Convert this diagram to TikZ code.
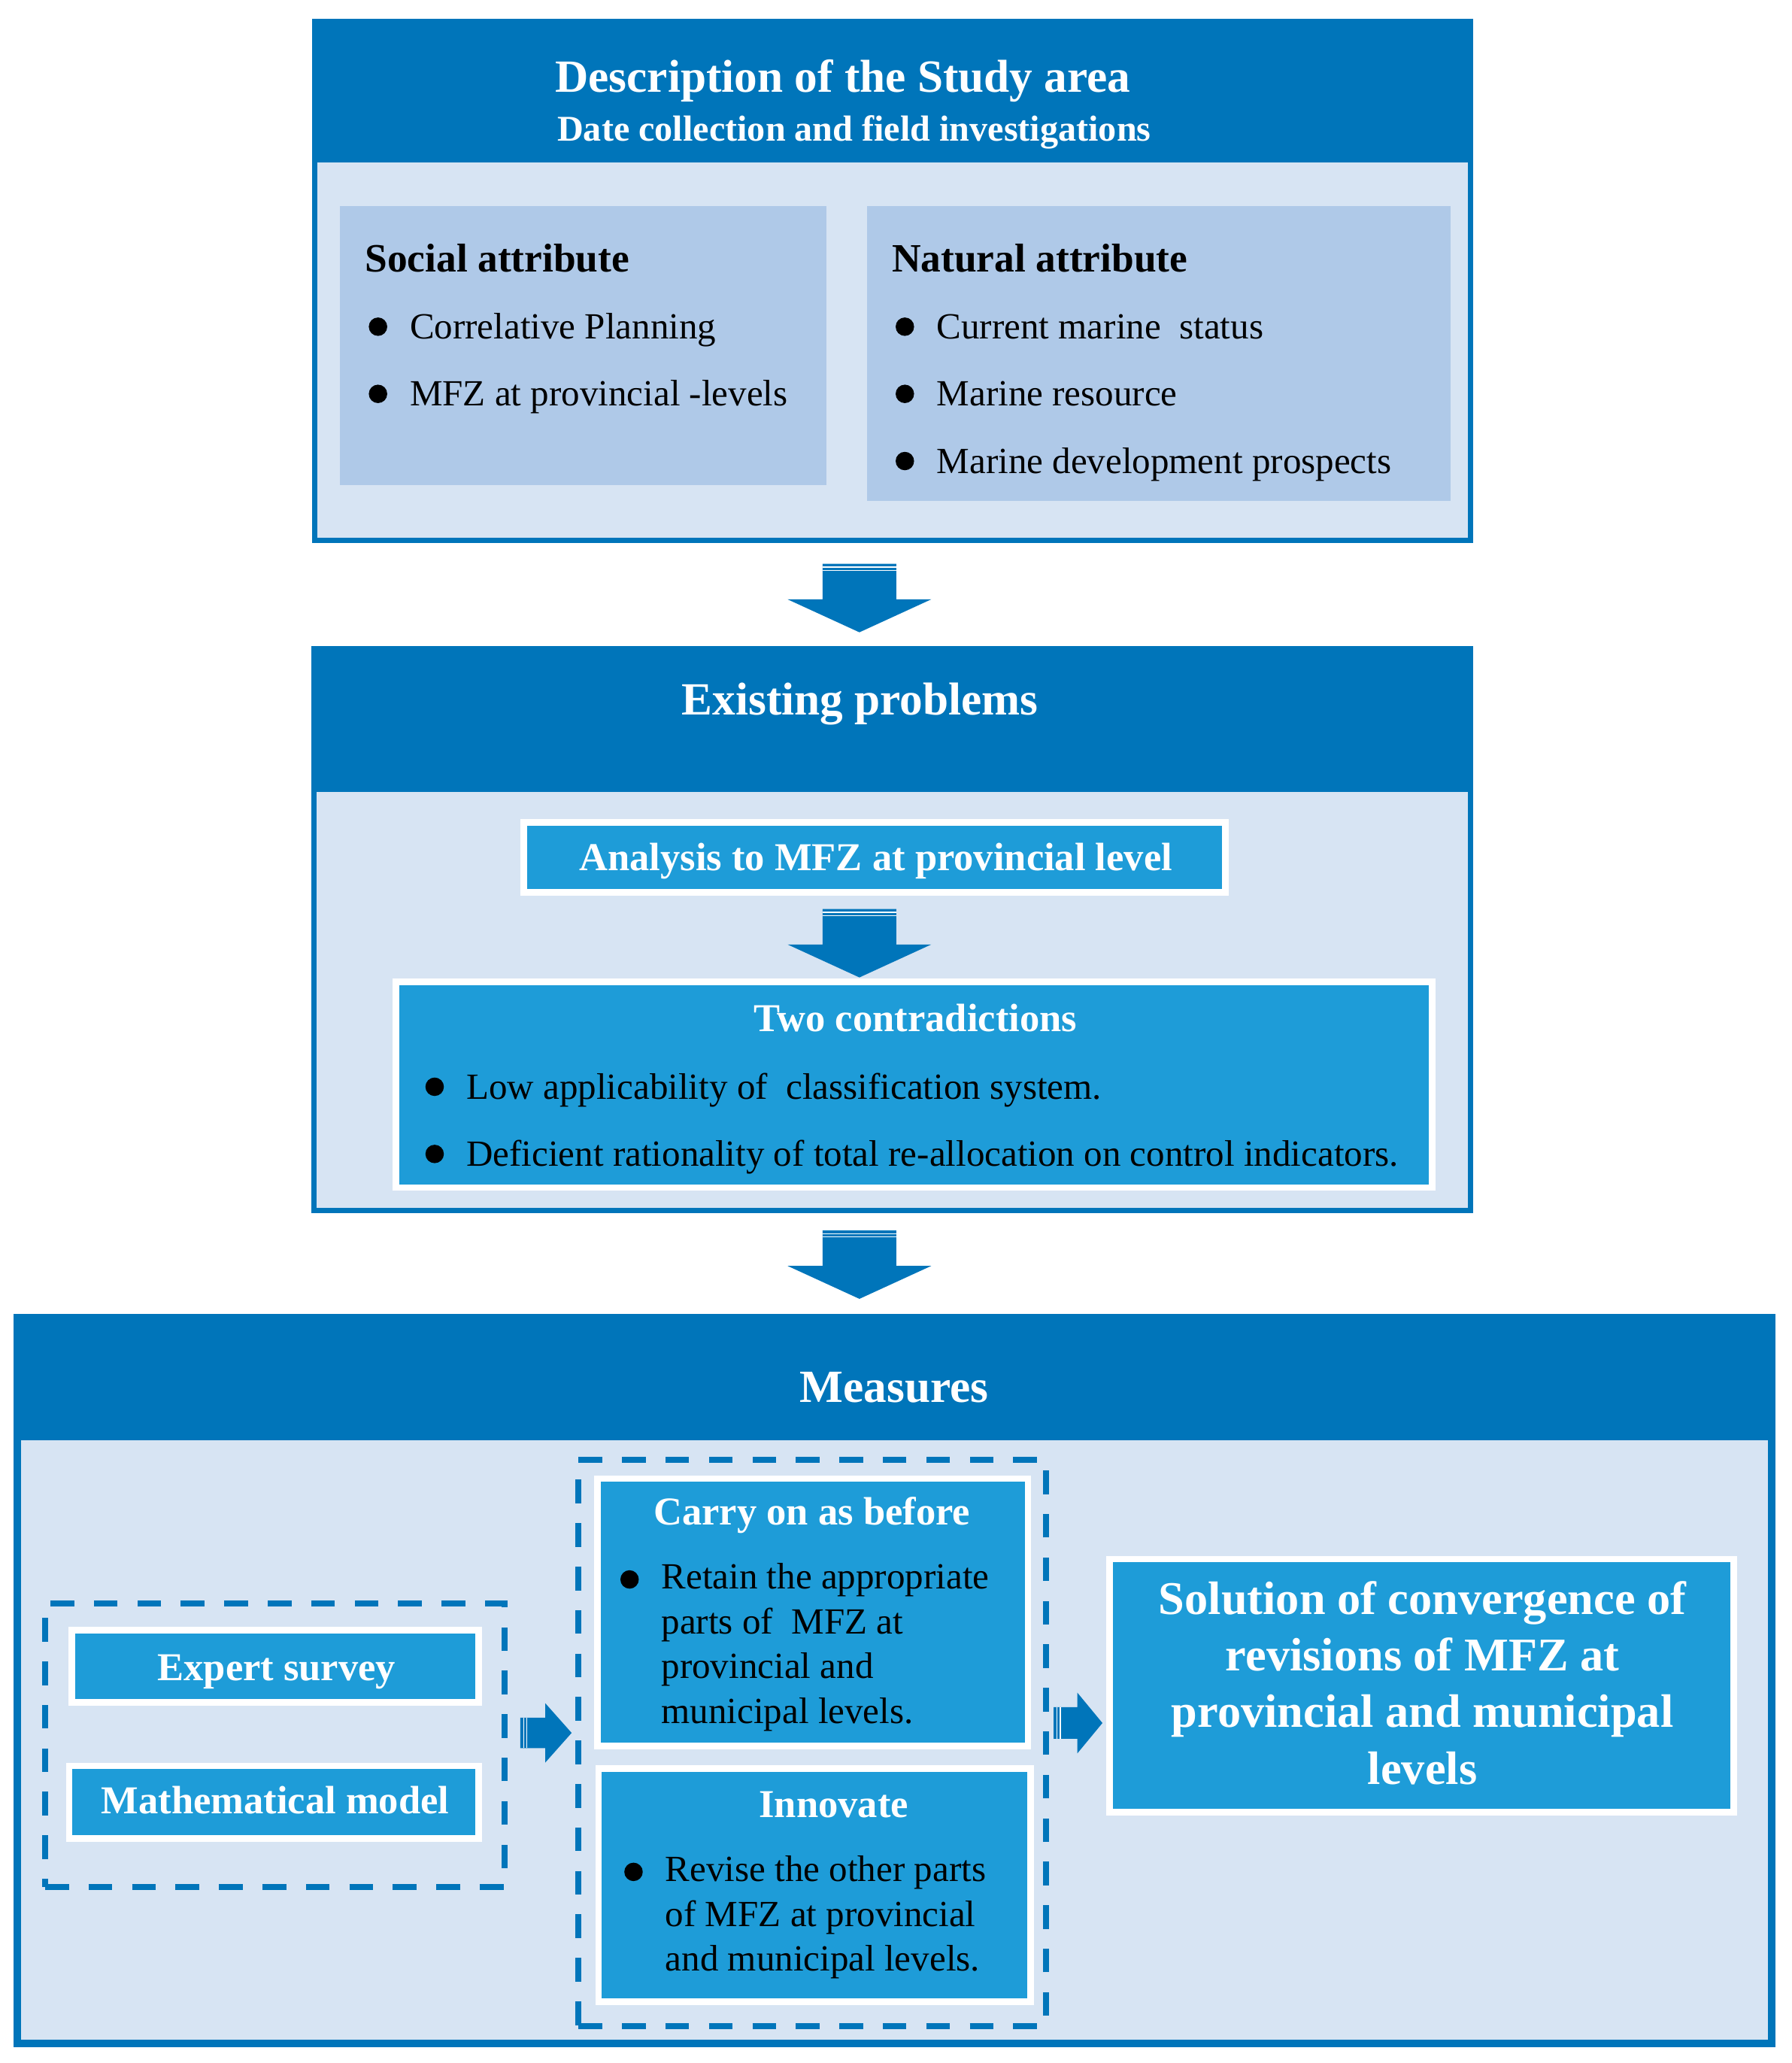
\documentclass[tikz,border=0pt]{standalone}
\usepackage{fontspec}
\setmainfont{Liberation Serif}
\definecolor{headblue}{RGB}{0,117,186}
\definecolor{boxblue}{RGB}{30,156,216}
\definecolor{paleblue}{RGB}{215,228,243}
\definecolor{attrblue}{RGB}{175,201,232}
\begin{document}
\begin{tikzpicture}[x=1pt, y=-1pt,
    section/.style = {fill=headblue, inner sep=0, anchor=north west},
    sectionbody/.style = {fill=paleblue, inner sep=0, anchor=north west},
    attr/.style = {fill=attrblue, inner sep=0, anchor=north west},
    bluebox/.style = {fill=boxblue, draw=white, line width=5pt, inner sep=0},
    dashbox/.style = {draw=headblue, line width=4.5pt, dash pattern=on 18pt off 15pt, inner sep=0, anchor=north west},
    headtitle/.style = {text=white, inner sep=0, anchor=mid, yshift=-9.5pt, font=\bfseries\fontsize{35}{42}\selectfont},
    boxtitle/.style = {text=white, inner sep=0, anchor=mid, yshift=-7.5pt, font=\bfseries\fontsize{30}{36}\selectfont},
    attrtitle/.style = {inner sep=0, anchor=mid west, yshift=-8pt, font=\bfseries\fontsize{30.5}{36}\selectfont},
    item/.style = {inner sep=0, anchor=mid west, yshift=-7pt, font=\fontsize{28}{34}\selectfont},
    itemblock/.style = {inner sep=0, anchor=west, align=left, font=\fontsize{28}{34}\selectfont},
    stripe/.style = {white, line width=0.8pt}]
    \path[use as bounding box, fill=white] (0,0) rectangle (1360,1566.1);
    % study area
    \node[section, minimum width=881, minimum height=398] (study) at (237,14) {};
    \node[sectionbody, minimum width=873, minimum height=285] (studybody) at (241,123) {};
    \node[headtitle] (studytitle) at (640,58) {Description of the Study area};
    \node[headtitle, yshift=1.5pt, font=\bfseries\fontsize{27.5}{33}\selectfont] (studysub) at (648.5,97) {Date collection and field investigations};
    \node[attr, minimum width=369, minimum height=212] (social) at (258,156) {};
    \node[attr, minimum width=443, minimum height=224] (natural) at (658,156) {};
    \node[attrtitle] (socialtitle) at (277,196) {Social attribute};
    \node[attrtitle] (naturaltitle) at (677,196) {Natural attribute};
    \node[item] (social1) at (311,248) {Correlative Planning};
    \node[item] (social2) at (311,299) {MFZ at provincial -levels};
    \node[item] (natural1) at (711,248) {Current marine~ status};
    \node[item] (natural2) at (711,299) {Marine resource};
    \node[item] (natural3) at (711,350) {Marine development prospects};
    \foreach \y in {248,299} \fill (287,\y) circle (7);
    \foreach \y in {248,299,350} \fill (687,\y) circle (7);
    % problems
    \node[section, minimum width=882, minimum height=431] (problems) at (236,490) {};
    \node[sectionbody, minimum width=874, minimum height=316] (problemsbody) at (240,601) {};
    \node[headtitle] (problemstitle) at (653,531) {Existing problems};
    \node[bluebox, minimum width=533, minimum height=53] (analysis) at (664,651) {};
    \node[boxtitle] (analysistitle) at (665,651) {Analysis to MFZ at provincial level};
    \node[bluebox, minimum width=787, minimum height=156] (contra) at (694,823.5) {};
    \node[boxtitle] (contratitle) at (695,773) {Two contradictions};
    \node[item] (contra1) at (354,825) {Low applicability of~ classification system.};
    \node[item] (contra2) at (354,876) {Deficient rationality of total re-allocation on control indicators.};
    \foreach \y in {825,876} \fill (330,\y) circle (7);
    % measures
    \node[section, minimum width=1338, minimum height=557] (measures) at (10,997) {};
    \node[sectionbody, minimum width=1326, minimum height=455] (measuresbody) at (16,1093) {};
    \node[headtitle] (measurestitle) at (679,1053) {Measures};
    \node[dashbox, minimum width=349, minimum height=215] (methods) at (32,1215) {};
    \node[bluebox, minimum width=309, minimum height=55] (expert) at (209,1265) {};
    \node[boxtitle] (experttitle) at (210,1266) {Expert survey};
    \node[bluebox, minimum width=311, minimum height=55] (mathmodel) at (208,1368) {};
    \node[boxtitle] (mathmodeltitle) at (209,1367) {Mathematical model};
    \node[dashbox, minimum width=355, minimum height=430] (strategy) at (437,1106) {};
    \node[bluebox, minimum width=327, minimum height=203] (carry) at (617,1224) {};
    \node[boxtitle] (carrytitle) at (616.5,1148) {Carry on as before};
    \node[itemblock] (carry1) at (502,1250.5) {Retain the appropriate\\parts of~ MFZ at\\provincial and\\municipal levels.};
    \fill (478,1199) circle (7);
    \node[bluebox, minimum width=328, minimum height=177] (innovate) at (618.5,1431) {};
    \node[boxtitle] (innovatetitle) at (633,1370) {Innovate};
    \node[itemblock] (innovate1) at (505,1455.5) {Revise the other parts\\of MFZ at provincial\\and municipal levels.};
    \fill (481,1421) circle (7);
    \node[bluebox, minimum width=474, minimum height=192, text=white, align=center,
        font=\bfseries\fontsize{35.6}{43}\selectfont] (solution) at (1079.5,1279.5)
        {};
    \node[inner sep=0, text=white, align=center, font=\bfseries\fontsize{35.6}{43}\selectfont] (solutiontext) at (1080,1277.5)
        {Solution of convergence of\\revisions of MFZ at\\provincial and municipal\\levels};
    % block arrows
    \foreach \t in {428,690,934} {
        \fill[headblue] (624.5,\t) -- ++(56,0) -- ++(0,27) -- ++(26.5,0) -- ++(-54.5,25)
            -- ++(-54.5,-25) -- ++(26.5,0) -- cycle;
        \draw[stripe] (624.5,\t+2.5) -- ++(56,0);
        \draw[stripe] (624.5,\t+5) -- ++(56,0);
    }
    \fill[headblue] (395,1304) -- (414,1304) -- (414,1293) -- (434,1315.5) -- (414,1338)
        -- (414,1327) -- (395,1327) -- cycle;
    \fill[headblue] (800,1296) -- (818,1296) -- (818,1285) -- (837,1308) -- (818,1331)
        -- (818,1320) -- (800,1320) -- cycle;
    \foreach \x in {397.5,400} \draw[stripe] (\x,1304) -- (\x,1327);
    \foreach \x in {802.5,805} \draw[stripe] (\x,1296) -- (\x,1320);
\end{tikzpicture}
\end{document}
